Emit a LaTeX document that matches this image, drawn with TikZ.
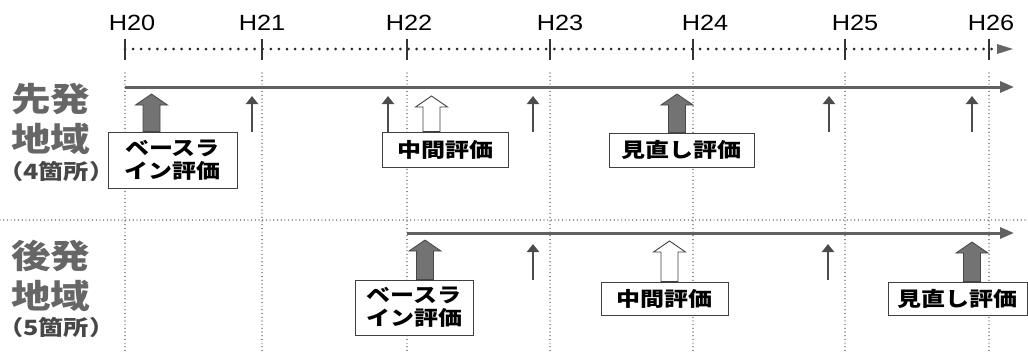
\documentclass[tikz,border=0pt]{standalone}
\usepackage{fontspec}
\setmainfont{Liberation Sans}[FakeStretch=1.15]
\newfontfamily\cjk{Noto Sans CJK JP}[FakeStretch=1.2]
\usetikzlibrary{arrows.meta,calc}
\tikzset{
  yr/.style={font=\fontsize{22}{24}\selectfont, inner sep=0, anchor=base},
  grid/.style={line width=1.2pt, dash pattern=on 0pt off 3.7pt, line cap=round, black!90},
  axisdots/.style={line width=3pt, dash pattern=on 0pt off 8.1pt, line cap=round, black!85},
  tickmark/.style={line width=1.1pt, black!80},
  mainline/.style={line width=3pt, black!62, -{Triangle[length=14pt,width=11pt]}},
  thinarrow/.style={line width=2.2pt, black!70, -{Triangle[length=8pt,width=12pt]}},
  evbox/.style={draw=black!75, line width=0.9pt, fill=white, inner sep=0, align=center,
    font=\cjk\bfseries\fontsize{20}{23}\selectfont},
  region/.style={font=\cjk\bfseries\fontsize{33}{40}\selectfont, text=black!60, inner sep=0, anchor=base west},
  count/.style={font=\cjk\bfseries\fontsize{21}{22}\selectfont, text=black!72, inner sep=0, anchor=base west},
  bgray/.style={fill=black!55, draw=black!72, line width=0.8pt},
  bwhite/.style={fill=white, draw=black!75, line width=0.9pt},
}
% block arrow: #1 x centre, #2 tip y, #3 box name (bottom at its north), #4 style
\newcommand\blockup[4]{%
  \draw[#4] let \p1=(#3.north) in
    (#1-8.5,\y1) -- (#1-8.5,#2+11) -- (#1-16,#2+11) -- (#1,#2) --
    (#1+16,#2+11) -- (#1+8.5,#2+11) -- (#1+8.5,\y1) -- cycle;}
\begin{document}
\begin{tikzpicture}[x=1pt,y=-1pt]
\useasboundingbox (0,0) rectangle (1028,354);

% year labels
\node[yr] (y20) at (132,30) {H20};
\node[yr] (y21) at (262,30) {H21};
\node[yr] (y22) at (409,30) {H22};
\node[yr] (y23) at (560,30) {H23};
\node[yr] (y24) at (705,30) {H24};
\node[yr] (y25) at (855,30) {H25};
\node[yr] (y26) at (991,30) {H26};

% top axis
\coordinate (ax0) at (125,49);
\coordinate (ax1) at (997,49);
\draw[axisdots] (ax0) -- (ax1);
\fill[black!60] (997,44) -- (1013,49) -- (997,54) -- cycle;

% ticks and vertical grid
\foreach \xx in {125,262,407,550,693,845,989}{
  \draw[tickmark] (\xx,39) -- (\xx,60);
  \draw[grid] (\xx,73) -- (\xx,354);
}
% separator
\draw[grid] (0,220) -- (1028,220);

% region labels
\node[region] (r1a) at (11,111) {先発};
\node[region] (r1b) at (11,151) {地域};
\node[count]  (r1c) at (-2,179) {（4箇所）};
\node[region] (r2a) at (11,268) {後発};
\node[region] (r2b) at (11,308) {地域};
\node[count]  (r2c) at (-2,335) {（5箇所）};

% main lines
\coordinate (s1) at (125,87);
\coordinate (e1) at (1014,87);
\draw[mainline] (s1) -- (e1);
\coordinate (s2) at (407,233);
\coordinate (e2) at (1014,233);
\draw[mainline] (s2) -- (e2);

% boxes
\node[evbox, minimum width=129, minimum height=56] (b1) at (172.5,160) {ベースラ\\イン評価};
\node[evbox, minimum width=126, minimum height=35] (b2) at (445,149.5) {中間評価};
\node[evbox, minimum width=145, minimum height=34] (b3) at (681.5,150) {見直し評価};
\node[evbox, minimum width=118, minimum height=55] (c1) at (414,307.5) {ベースラ\\イン評価};
\node[evbox, minimum width=127, minimum height=33] (c2) at (664.5,298.5) {中間評価};
\node[evbox, minimum width=139, minimum height=33] (c3) at (957.5,298.5) {見直し評価};

% block arrows
\blockup{151.5}{94}{b1}{bgray}
\blockup{431.5}{96}{b2}{bwhite}
\blockup{677}{94}{b3}{bgray}
\blockup{425}{240}{c1}{bgray}
\blockup{669.5}{241}{c2}{bwhite}
\blockup{972}{242}{c3}{bgray}

% thin arrows (top row)
\foreach \xx [count=\i] in {252,388,533,829,972}{
  \coordinate (ta\i) at (\xx,132);
  \coordinate (tb\i) at (\xx,96);
  \draw[thinarrow] (ta\i) -- (tb\i);
}
% thin arrows (bottom row)
\foreach \xx [count=\i] in {533,828}{
  \coordinate (ua\i) at (\xx,280);
  \coordinate (ub\i) at (\xx,244);
  \draw[thinarrow] (ua\i) -- (ub\i);
}
\end{tikzpicture}
\end{document}
